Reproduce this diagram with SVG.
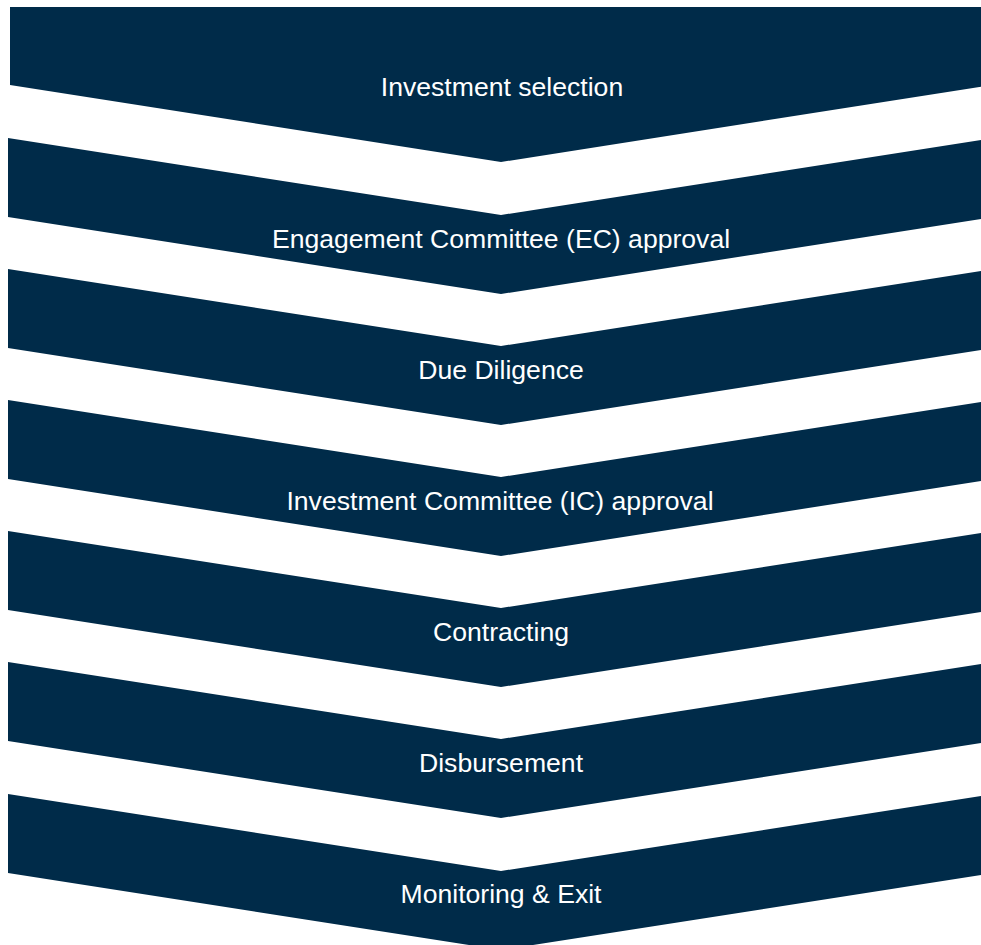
<svg xmlns="http://www.w3.org/2000/svg" width="981" height="945" viewBox="0 0 981 945">
<style>
.s{fill:#002B49}
.t{fill:#ffffff;font-family:"Liberation Sans",Arial,sans-serif;font-size:26.6px;text-anchor:middle}
</style>
<rect x="0" y="0" width="981" height="945" fill="#ffffff"/>
<g id="n1"><polygon class="s" points="10,7 992,7 992,85 501,162 10,85"/><text class="t" x="502" y="96">Investment selection</text></g>
<g id="n2"><polygon class="s" points="8,138 501,215 994,138 994,217 501,294 8,217"/><text class="t" x="501" y="248">Engagement Committee (EC) approval</text></g>
<g id="n3"><polygon class="s" points="8,269 501,346 994,269 994,348 501,425 8,348"/><text class="t" x="501" y="379">Due Diligence</text></g>
<g id="n4"><polygon class="s" points="8,400 501,477 994,400 994,479 501,556 8,479"/><text class="t" x="500" y="510">Investment Committee (IC) approval</text></g>
<g id="n5"><polygon class="s" points="8,531 501,608 994,531 994,610 501,687 8,610"/><text class="t" x="501" y="641">Contracting</text></g>
<g id="n6"><polygon class="s" points="8,662 501,739 994,662 994,741 501,818 8,741"/><text class="t" x="501" y="772">Disbursement</text></g>
<g id="n7"><polygon class="s" points="8,794 501,871 994,794 994,873 501,950 8,873"/><text class="t" x="501" y="903">Monitoring &amp; Exit</text></g>
<g id="connectors"></g>
</svg>
